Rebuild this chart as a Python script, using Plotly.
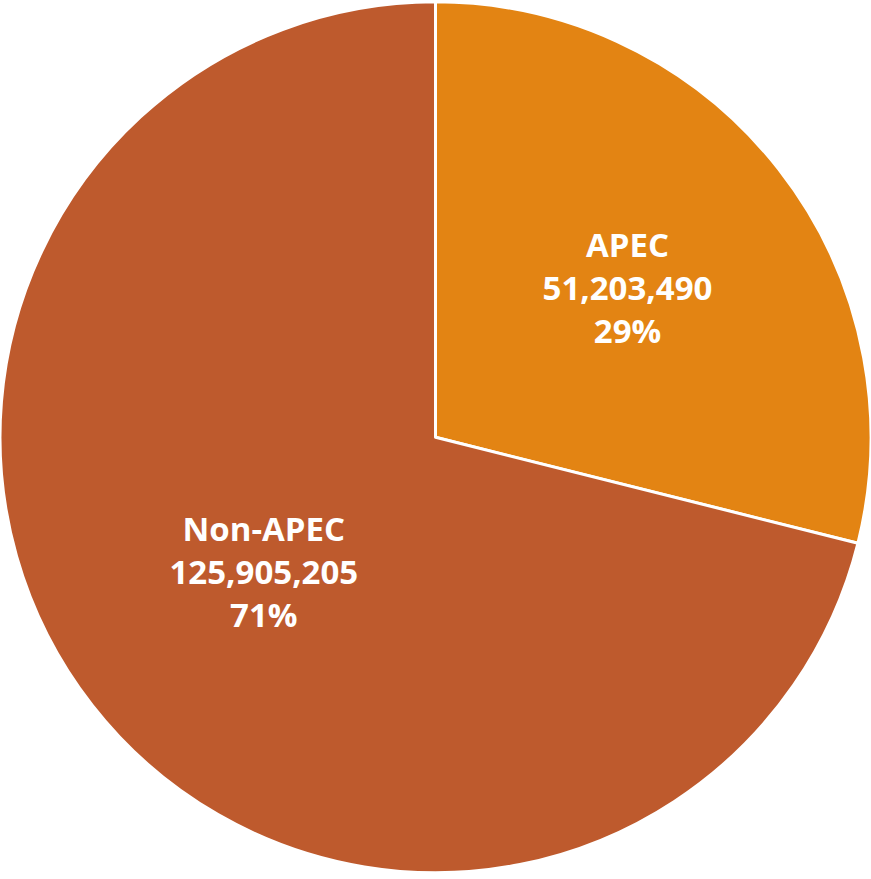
import plotly.graph_objects as go

labels = ["APEC", "Non-APEC"]
values = [51203490, 125905205]
colors = ["#E38413", "#BE5A2D"]

fig = go.Figure(go.Pie(
    labels=labels,
    values=values,
    sort=False,
    direction="clockwise",
    rotation=0,
    marker=dict(colors=colors, line=dict(color="white", width=3)),
    texttemplate="<b>%{label}<br>%{value:,}<br>%{percent:.0%}</b>",
    textposition="inside",
    insidetextorientation="horizontal",
    textfont=dict(family="Open Sans", size=33, color="white"),
    showlegend=False,
    hoverinfo="label+value+percent",
    domain=dict(x=[0, 1], y=[0.005, 1]),
))
fig.update_layout(
    width=871, height=879,
    margin=dict(l=0, r=0, t=0, b=0),
    paper_bgcolor="white",
    plot_bgcolor="white",
)
fig.write_html(
    "out.html",
    config={"displayModeBar": False},
    post_script="document.body.style.margin='0';document.body.style.overflow='hidden';",
)
